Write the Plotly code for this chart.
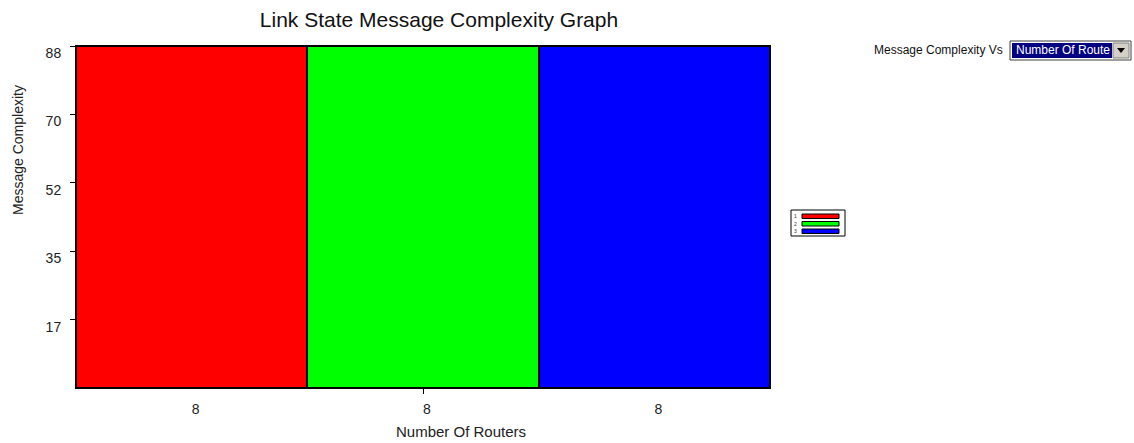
import plotly.graph_objects as go

# Chart data
series_names = ["1", "2", "3"]
router_counts = [8, 8, 8]
message_complexity = [88, 88, 88]
bar_colors = ["#ff0000", "#00ff00", "#0000ff"]

y_tick_vals = [17.6, 35.2, 52.8, 70.4, 88.0]
y_tick_text = ["17", "35", "52", "70", "88"]
y_max = 88

# Plot area in pixels (figure is 1134 x 443)
W, H = 1134, 443
PL, PR, PT, PB = 76, 770, 46, 388

def px(x):
    return (x - PL) / (PR - PL)

def py(y):
    return (PB - y) / (PB - PT)

FONT = "Liberation Sans, Arial, sans-serif"
positions = list(range(len(message_complexity)))
mid = positions[len(positions) // 2]

fig = go.Figure()
fig.add_trace(go.Bar(
    x=positions,
    y=message_complexity,
    width=1,
    marker=dict(color=bar_colors, line=dict(color="black", width=2)),
    showlegend=False,
    hoverinfo="skip",
))
# Empty trace so the overlay axis carrying the centre tick is drawn
fig.add_trace(go.Scatter(x=[mid], y=[0], xaxis="x2", mode="markers",
                         marker=dict(opacity=0), showlegend=False,
                         hoverinfo="skip"))

fig.update_layout(
    width=W, height=H,
    margin=dict(l=PL, r=W - PR, t=PT, b=H - PB, pad=0),
    paper_bgcolor="white",
    plot_bgcolor="white",
    font=dict(family=FONT, color="#222"),
    bargap=0,
    title=dict(
        text="Link State Message Complexity Graph",
        x=439 / W, xanchor="center",
        y=1 - 20 / H, yanchor="middle",
        font=dict(size=21, color="#111", family=FONT),
    ),
    xaxis=dict(
        range=[-0.5, len(positions) - 0.5],
        tickmode="array",
        tickvals=positions,
        ticktext=[str(v) for v in router_counts],
        ticks="",
        ticklabelshift=4,
        ticklabelstandoff=8,
        tickfont=dict(size=14, color="#222"),
        showgrid=False, zeroline=False,
        showline=True, linecolor="black", linewidth=1, mirror=True,
    ),
    xaxis2=dict(
        overlaying="x",
        range=[-0.5, len(positions) - 0.5],
        tickmode="array",
        tickvals=[mid],
        ticks="outside", ticklen=5, tickcolor="black", tickwidth=1,
        showticklabels=False,
        showgrid=False, zeroline=False, showline=False,
        side="bottom",
    ),
    yaxis=dict(
        range=[0, y_max],
        tickmode="array",
        tickvals=y_tick_vals,
        ticktext=y_tick_text,
        ticks="outside", ticklen=5, tickcolor="black", tickwidth=1,
        ticklabelshift=7,
        ticklabelstandoff=6,
        tickfont=dict(size=14, color="#222"),
        showgrid=False, zeroline=False,
        showline=True, linecolor="black", linewidth=1, mirror=True,
    ),
)

annotations = [
    dict(text="Message Complexity", textangle=-90,
         x=px(18), y=py(150), xref="paper", yref="paper",
         xanchor="center", yanchor="middle", showarrow=False,
         font=dict(size=14, color="#222")),
    dict(text="Number Of Routers",
         x=px(461), y=py(431), xref="paper", yref="paper",
         xanchor="center", yanchor="middle", showarrow=False,
         font=dict(size=15, color="#222")),
    dict(text="Message Complexity Vs",
         x=px(1005), y=py(50), xref="paper", yref="paper",
         xanchor="right", yanchor="middle", showarrow=False,
         font=dict(size=12, color="#111")),
    dict(text="Number Of Route",
         x=px(1014), y=py(50), xref="paper", yref="paper",
         xanchor="left", yanchor="middle", showarrow=False,
         font=dict(size=12, color="white")),
]

shapes = []

# Selector box next to the title
shapes += [
    dict(type="rect", xref="paper", yref="paper",
         x0=px(1010), x1=px(1131), y0=py(41), y1=py(60),
         line=dict(color="#404040", width=1), fillcolor="white"),
    dict(type="rect", xref="paper", yref="paper",
         x0=px(1012), x1=px(1112), y0=py(43), y1=py(58),
         line=dict(width=0), fillcolor="#000080"),
    dict(type="rect", xref="paper", yref="paper",
         x0=px(1113), x1=px(1129), y0=py(43), y1=py(58),
         line=dict(color="#808080", width=1), fillcolor="#d4d0c8"),
    dict(type="path", xref="paper", yref="paper",
         path="M {} {} L {} {} L {} {} Z".format(px(1117), py(48), px(1125), py(48), px(1121), py(53)),
         line=dict(width=0), fillcolor="black"),
]

# Legend box with one swatch per series
LX0, LX1, LY0, LY1 = 791, 845, 210, 236
shapes.append(dict(type="rect", xref="paper", yref="paper",
                   x0=px(LX0), x1=px(LX1), y0=py(LY0), y1=py(LY1),
                   line=dict(color="black", width=1), fillcolor="white"))
for i, (name, color) in enumerate(zip(series_names, bar_colors)):
    top = 214 + i * 7.5
    shapes.append(dict(type="rect", xref="paper", yref="paper",
                       x0=px(802), x1=px(839), y0=py(top), y1=py(top + 4.5),
                       line=dict(color="black", width=1), fillcolor=color))
    annotations.append(dict(text=name, x=px(795), y=py(top + 2.25),
                            xref="paper", yref="paper",
                            xanchor="center", yanchor="middle", showarrow=False,
                            font=dict(size=5, color="#333")))

fig.update_layout(annotations=annotations, shapes=shapes)

fig.write_html("out.html")
